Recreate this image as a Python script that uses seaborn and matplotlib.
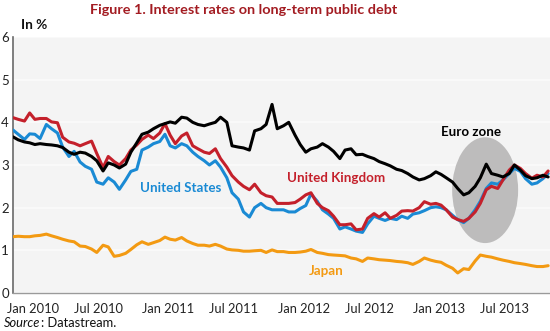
import matplotlib
matplotlib.use("Agg")
import matplotlib.pyplot as plt
import matplotlib.dates as mdates
from matplotlib.patches import Ellipse
from matplotlib.transforms import offset_copy
import seaborn as sns
import pandas as pd
import numpy as np

# ---- data (semi-monthly samples) ----
dates = pd.date_range("2010-01-01", "2013-12-15", freq="SMS")

uk = [4.11, 4.07, 4.03, 4.22, 4.07, 4.09, 4.09, 4.01, 3.99, 3.65,
      3.54, 3.51, 3.45, 3.50, 3.56, 3.27, 2.94, 3.20, 3.08, 3.00,
      3.15, 3.35, 3.47, 3.60, 3.70, 3.62, 3.75, 3.97, 3.70, 3.50,
      3.68, 3.75, 3.45, 3.38, 3.30, 3.27, 3.38, 3.15, 2.95, 2.75,
      2.60, 2.50, 2.42, 2.55, 2.35, 2.28, 2.25, 2.10, 2.10, 2.10,
      2.12, 2.20, 2.30, 2.35, 2.10, 2.00, 1.93, 1.80, 1.60, 1.60,
      1.62, 1.48, 1.50, 1.75, 1.86, 1.78, 1.88, 1.75, 1.82, 1.92,
      1.93, 1.92, 2.00, 2.14, 2.08, 2.10, 2.06, 1.95, 1.78, 1.72,
      1.68, 1.75, 1.90, 2.10, 2.42, 2.50, 2.45, 2.65, 2.88, 3.00,
      2.92, 2.80, 2.69, 2.76, 2.72, 2.86]

us = [3.82, 3.72, 3.60, 3.73, 3.72, 3.62, 3.95, 3.85, 3.75, 3.42,
      3.20, 3.32, 3.07, 2.97, 2.90, 2.60, 2.55, 2.70, 2.60, 2.43,
      2.65, 2.85, 2.90, 3.35, 3.42, 3.50, 3.55, 3.72, 3.45, 3.40,
      3.50, 3.45, 3.30, 3.20, 3.10, 3.00, 3.10, 2.95, 2.70, 2.35,
      2.20, 1.90, 1.78, 2.00, 2.10, 2.00, 1.95, 1.95, 1.95, 1.90,
      1.90, 1.98, 2.05, 2.32, 2.15, 1.95, 1.85, 1.75, 1.50, 1.55,
      1.50, 1.45, 1.42, 1.62, 1.80, 1.75, 1.70, 1.75, 1.72, 1.80,
      1.75, 1.85, 1.88, 1.93, 2.00, 2.02, 2.00, 1.95, 1.82, 1.72,
      1.65, 1.75, 1.95, 2.15, 2.45, 2.58, 2.55, 2.65, 2.80, 2.92,
      2.85, 2.68, 2.55, 2.58, 2.68, 2.80]

euro = [3.66, 3.59, 3.54, 3.52, 3.48, 3.50, 3.48, 3.47, 3.45, 3.41,
        3.30, 3.25, 3.30, 3.28, 3.20, 3.10, 2.86, 3.05, 3.00, 2.93,
        3.02, 3.30, 3.52, 3.72, 3.77, 3.85, 3.93, 3.97, 4.01, 3.98,
        4.12, 4.10, 4.00, 3.95, 3.92, 3.96, 4.00, 4.12, 4.00, 3.45,
        3.42, 3.40, 3.35, 3.80, 3.85, 3.95, 4.42, 3.85, 3.92, 4.00,
        3.70, 3.48, 3.30, 3.38, 3.42, 3.50, 3.42, 3.32, 3.15, 3.35,
        3.38, 3.24, 3.25, 3.20, 3.15, 3.08, 3.03, 2.98, 2.90, 2.87,
        2.80, 2.72, 2.65, 2.68, 2.75, 2.84, 2.78, 2.70, 2.60, 2.45,
        2.30, 2.35, 2.50, 2.70, 3.02, 2.80, 2.76, 2.72, 2.80, 3.00,
        2.88, 2.75, 2.68, 2.70, 2.76, 2.72]

japan = [1.32, 1.33, 1.32, 1.32, 1.34, 1.35, 1.38, 1.34, 1.30, 1.26,
         1.22, 1.20, 1.10, 1.09, 1.03, 0.95, 1.12, 1.08, 0.86, 0.88,
         0.93, 1.02, 1.13, 1.20, 1.14, 1.18, 1.23, 1.31, 1.26, 1.24,
         1.30, 1.22, 1.16, 1.12, 1.12, 1.10, 1.14, 1.10, 1.03, 1.01,
         1.00, 0.98, 0.98, 0.99, 1.00, 0.95, 1.01, 0.97, 0.97, 0.95,
         0.95, 0.96, 0.98, 1.02, 0.95, 0.93, 0.90, 0.89, 0.88, 0.87,
         0.82, 0.80, 0.74, 0.82, 0.80, 0.78, 0.77, 0.76, 0.74, 0.73,
         0.71, 0.67, 0.74, 0.82, 0.77, 0.74, 0.72, 0.65, 0.58, 0.47,
         0.57, 0.55, 0.75, 0.89, 0.86, 0.84, 0.80, 0.77, 0.74, 0.71,
         0.69, 0.67, 0.64, 0.62, 0.62, 0.64]

series_names = ["Japan", "United States", "United Kingdom", "Euro zone"]
colors = {"Japan": "#f39a12", "United States": "#1a8ad4",
          "United Kingdom": "#c4202b", "Euro zone": "#000000"}
yticks = [0, 1, 2, 3, 4, 5, 6]
xtick_dates = ["2010-01-01", "2010-07-01", "2011-01-01", "2011-07-01",
               "2012-01-01", "2012-07-01", "2013-01-01", "2013-07-01"]
xtick_labels = ["Jan 2010", "Jul 2010", "Jan 2011", "Jul 2011",
                "Jan 2012", "Jul 2012", "Jan 2013", "Jul 2013"]

df = pd.concat([
    pd.DataFrame({"date": dates, "value": vals, "series": name})
    for name, vals in zip(["Japan", "United States", "United Kingdom", "Euro zone"],
                          [japan, us, uk, euro])
], ignore_index=True)

# ---- figure ----
sns.set_style("white")
plt.rcParams["font.family"] = ["Lato", "DejaVu Sans"]

fig = plt.figure(figsize=(5.5, 3.31), dpi=100)
ax = fig.add_axes([13 / 550, 1 - 293 / 331, 1 - 13 / 550, (293 - 37) / 331])
ax.set_facecolor("#f4f4f4")

ax.set_axisbelow(True)
ax.yaxis.grid(True, color="#fbfbfb", linewidth=1.2)
ax.xaxis.grid(False)

# highlight ellipse (above grid, behind lines)
ell = Ellipse((mdates.date2num(pd.Timestamp("2013-06-28")), 2.41),
              width=178, height=2.48, facecolor="#bdbcbc", edgecolor="none",
              zorder=1)
ax.add_patch(ell)

sns.lineplot(data=df, x="date", y="value", hue="series",
             hue_order=series_names, palette=colors, linewidth=2.2,
             legend=False, ax=ax, zorder=3)

ax.set_xlim(pd.Timestamp("2010-01-01"), pd.Timestamp("2013-12-20"))
ax.set_ylim(0, 6)
ax.set_yticks(yticks)
ax.set_yticklabels([str(v) for v in yticks], fontsize=9.5, color="#222222")
ax.tick_params(axis="y", length=0, pad=3)

ax.set_xticks([pd.Timestamp(d) for d in xtick_dates])
ax.set_xticklabels(xtick_labels, fontsize=9.3, color="#222222", ha="left")
ax.tick_params(axis="x", length=4, width=1, color="#9a9a9a", pad=3)
for lab in ax.get_xticklabels():
    lab.set_transform(offset_copy(lab.get_transform(), fig=fig, x=-6, y=0, units="dots"))

ax.set_xlabel("")
ax.set_ylabel("")
for s in ["top", "right"]:
    ax.spines[s].set_visible(False)
ax.spines["left"].set_color("#6a6a6a")
ax.spines["left"].set_linewidth(1.2)
ax.spines["bottom"].set_color("#9a9a9a")
ax.spines["bottom"].set_linewidth(1.0)

# series labels
lab_kw = dict(fontsize=9.6, fontweight="bold", va="center", ha="left", zorder=4)
ax.text(pd.Timestamp("2010-12-10"), 2.45, "United States", color=colors["United States"], **lab_kw)
ax.text(pd.Timestamp("2012-01-10"), 2.69, "United Kingdom", color=colors["United Kingdom"], **lab_kw)
ax.text(pd.Timestamp("2013-03-02"), 3.78, "Euro zone", color="#000000", **lab_kw)
ax.text(pd.Timestamp("2012-03-10"), 0.51, "Japan", color=colors["Japan"], **lab_kw)

# title & annotations
fig.text(244 / 550, 1 - 10 / 331, "Figure 1. Interest rates on long-term public debt",
         color="#a31c22", fontsize=10.4, fontweight="bold", ha="center", va="center")
fig.text(21 / 550, 1 - 25 / 331, "In %", color="#111111", fontsize=9.8,
         fontweight="bold", ha="left", va="center")

t1 = fig.text(4 / 550, 1 - 323 / 331, "Source", fontsize=9.3, style="italic",
              color="#111111", ha="left", va="center")
fig.canvas.draw()
bb = t1.get_window_extent(renderer=fig.canvas.get_renderer())
fig.text((bb.x1 + 1) / 550, 1 - 323 / 331, ": Datastream.", fontsize=9.3,
         color="#111111", ha="left", va="center")

fig.savefig("out.png", dpi=100)
